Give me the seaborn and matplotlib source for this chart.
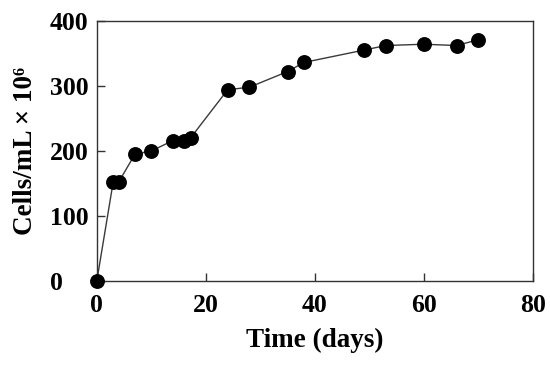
import matplotlib
matplotlib.use("Agg")
import matplotlib.pyplot as plt
import seaborn as sns
import pandas as pd

# Dados
dias = [0, 3, 4, 7, 10, 14, 16, 17.2, 24, 28, 35, 38, 49, 53, 60, 66, 70]
celulas = [0, 152, 152, 195, 200, 216, 216, 220, 294, 298, 322, 336, 355, 362, 364, 362, 371]
ticks_x = [0, 20, 40, 60, 80]
ticks_y = [0, 100, 200, 300, 400]

sns.set_style("ticks")
plt.rcParams["font.family"] = ["Liberation Serif", "DejaVu Serif"]
plt.rcParams["font.weight"] = "bold"
plt.rcParams["text.color"] = "black"
plt.rcParams["xtick.labelcolor"] = "black"
plt.rcParams["ytick.labelcolor"] = "black"
plt.rcParams["axes.labelcolor"] = "black"

df = pd.DataFrame({"dias": dias, "celulas": celulas})

fig = plt.figure(figsize=(5.5, 3.65), dpi=100)
ax = fig.add_axes([0.176, 0.230, 0.793, 0.713])

sns.lineplot(data=df, x="dias", y="celulas", ax=ax, color="#3a3a3a", linewidth=1.0)
sns.scatterplot(data=df, x="dias", y="celulas", ax=ax, color="black", s=115,
                edgecolor="black", linewidth=0, zorder=3, clip_on=False)

ax.set_xlim(0, 80)
ax.set_ylim(0, 400)
ax.set_xticks(ticks_x)
ax.set_yticks(ticks_y)
ax.tick_params(direction="in", length=6, width=1, labelsize=18.5, color="#333333")
ax.tick_params(axis="x", pad=9)
ax.tick_params(axis="y", pad=34)
for lab in ax.get_xticklabels() + ax.get_yticklabels():
    lab.set_fontweight("bold")
# rótulos do eixo y alinhados à esquerda como no original
for lab in ax.get_yticklabels():
    lab.set_horizontalalignment("left")
for s in ax.spines.values():
    s.set_visible(True)
    s.set_linewidth(1.0)
    s.set_color("#333333")

ax.set_xlabel("Time (days)", fontsize=19.5, fontweight="bold", labelpad=8)
ax.set_ylabel("Cells/mL × 10⁶", fontsize=19.5, fontweight="bold", labelpad=8)

fig.savefig("out.png", dpi=100)
